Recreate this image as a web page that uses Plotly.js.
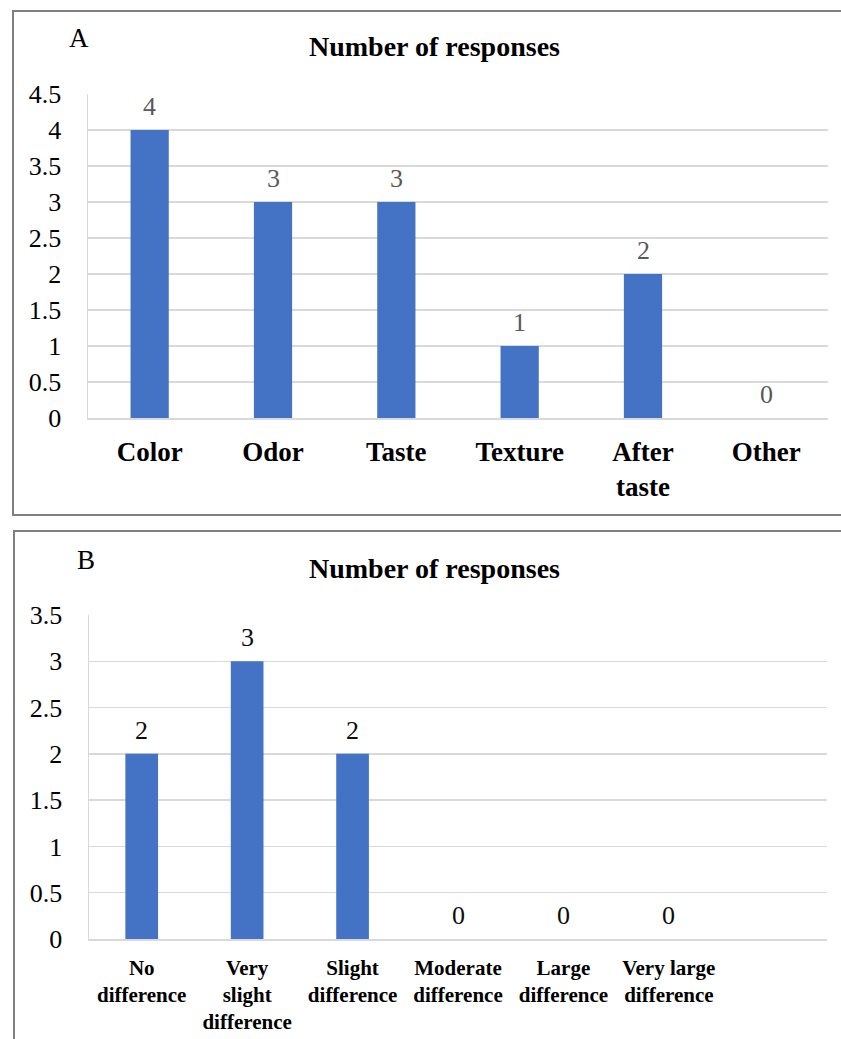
<!DOCTYPE html>
<html>
<head>
<meta charset="utf-8">
<script src="https://cdn.plot.ly/plotly-3.0.1.min.js"></script>
<style>
  html, body { margin: 0; padding: 0; background: #ffffff; }
  #chart { width: 841px; height: 1039px; }
</style>
</head>
<body>
<div id="chart"></div>
<script>
// ---- Data ----
const categoriesA = ["Color", "Odor", "Taste", "Texture", "After<br>taste", "Other"];
const valuesA = [4, 3, 3, 1, 2, 0];
const yTicksA = [0, 0.5, 1, 1.5, 2, 2.5, 3, 3.5, 4, 4.5];
const yTickLabelsA = ["0", "0.5", "1", "1.5", "2", "2.5", "3", "3.5", "4", "4.5"];

const categoriesB = ["No<br>difference", "Very<br>slight<br>difference", "Slight<br>difference",
                     "Moderate<br>difference", "Large<br>difference", "Very large<br>difference"];
const valuesB = [2, 3, 2, 0, 0, 0];
const yTicksB = [0, 0.5, 1, 1.5, 2, 2.5, 3, 3.5];
const yTickLabelsB = ["0", "0.5", "1", "1.5", "2", "2.5", "3", "3.5"];

const panelTitle = "Number of responses";
const panelLetters = ["A", "B"];

// ---- Styling ----
const W = 841, H = 1039;
const serif = "Liberation Serif, Times New Roman, serif";
const barColor = "#4472C4";
const gridColor = "#d9d9d9";

function px(x) { return x / W; }
function py(y) { return 1 - y / H; }

const traceA = {
  type: "bar", x: categoriesA, y: valuesA,
  xaxis: "x", yaxis: "y",
  marker: { color: barColor, line: { width: 0 } },
  hoverinfo: "skip", showlegend: false
};
const traceB = {
  type: "bar", x: categoriesB, y: valuesB,
  xaxis: "x2", yaxis: "y2",
  marker: { color: barColor, line: { width: 0 } },
  hoverinfo: "skip", showlegend: false
};

const annotations = [];
// data labels
categoriesA.forEach((c, i) => {
  annotations.push({
    x: c, y: valuesA[i], xref: "x", yref: "y",
    text: String(valuesA[i]), showarrow: false,
    yanchor: "bottom", yshift: 7,
    font: { family: serif, size: 26, color: "#595959" }
  });
});
categoriesB.forEach((c, i) => {
  annotations.push({
    x: c, y: valuesB[i], xref: "x2", yref: "y2",
    text: String(valuesB[i]), showarrow: false,
    yanchor: "bottom", yshift: 7,
    font: { family: serif, size: 26, color: "#0d0d0d" }
  });
});
// titles and panel letters
annotations.push({
  xref: "paper", yref: "paper", x: px(434), y: py(47),
  xanchor: "center", yanchor: "middle", showarrow: false,
  text: "<b>" + panelTitle + "</b>",
  font: { family: serif, size: 28, color: "#000000" }
});
annotations.push({
  xref: "paper", yref: "paper", x: px(434), y: py(568),
  xanchor: "center", yanchor: "middle", showarrow: false,
  text: "<b>" + panelTitle + "</b>",
  font: { family: serif, size: 28, color: "#000000" }
});
annotations.push({
  xref: "paper", yref: "paper", x: px(79), y: py(38),
  xanchor: "center", yanchor: "middle", showarrow: false,
  text: panelLetters[0],
  font: { family: serif, size: 27, color: "#000000" }
});
annotations.push({
  xref: "paper", yref: "paper", x: px(86), y: py(560),
  xanchor: "center", yanchor: "middle", showarrow: false,
  text: panelLetters[1],
  font: { family: serif, size: 27, color: "#000000" }
});

const shapes = [
  { type: "rect", xref: "paper", yref: "paper",
    x0: px(13), x1: px(845), y0: py(515), y1: py(11),
    line: { color: "#7f7f7f", width: 2 }, fillcolor: "rgba(0,0,0,0)" },
  { type: "rect", xref: "paper", yref: "paper",
    x0: px(14), x1: px(845), y0: py(1045), y1: py(531),
    line: { color: "#7f7f7f", width: 2 }, fillcolor: "rgba(0,0,0,0)" }
];

const layout = {
  width: W, height: H,
  margin: { l: 0, r: 0, t: 0, b: 0 },
  paper_bgcolor: "#ffffff", plot_bgcolor: "#ffffff",
  bargap: 0.69,
  showlegend: false,
  font: { family: serif, color: "#000000" },
  xaxis: {
    domain: [px(88), px(828)], anchor: "y",
    type: "category", range: [-0.5, 5.5],
    showgrid: false, zeroline: false,
    showline: true, linecolor: gridColor, linewidth: 1.5,
    ticks: "", ticklabelstandoff: 9,
    tickfont: { family: serif, size: 27, color: "#000000", weight: "bold" },
    fixedrange: true
  },
  yaxis: {
    domain: [py(418), py(94)], anchor: "x",
    range: [0, 4.5], tickvals: yTicksA, ticktext: yTickLabelsA,
    showgrid: true, gridcolor: gridColor, gridwidth: 1.5,
    zeroline: false,
    showline: true, linecolor: gridColor, linewidth: 1.5,
    ticks: "", ticklabelstandoff: 20,
    tickfont: { family: serif, size: 26, color: "#000000" },
    fixedrange: true
  },
  xaxis2: {
    domain: [px(89), px(827)], anchor: "y2",
    type: "category", range: [-0.5, 6.5],
    showgrid: false, zeroline: false,
    showline: true, linecolor: gridColor, linewidth: 1.5,
    ticks: "", ticklabelstandoff: 9,
    tickfont: { family: serif, size: 21, color: "#000000", weight: "bold" },
    fixedrange: true
  },
  yaxis2: {
    domain: [py(939), py(615)], anchor: "x2",
    range: [0, 3.5], tickvals: yTicksB, ticktext: yTickLabelsB,
    showgrid: true, gridcolor: gridColor, gridwidth: 1.5,
    zeroline: false,
    showline: true, linecolor: gridColor, linewidth: 1.5,
    ticks: "", ticklabelstandoff: 20,
    tickfont: { family: serif, size: 26, color: "#000000" },
    fixedrange: true
  },
  annotations: annotations,
  shapes: shapes
};

Plotly.newPlot("chart", [traceA, traceB], layout, { displayModeBar: false, staticPlot: true });
</script>
</body>
</html>
